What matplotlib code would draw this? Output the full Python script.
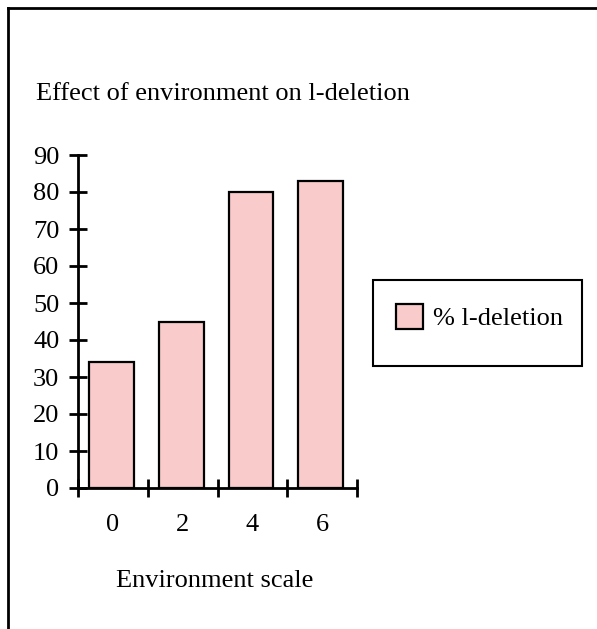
import numpy as np
import matplotlib.pyplot as plt
from matplotlib.lines import Line2D
from matplotlib.patches import Rectangle

categories = ["0", "2", "4", "6"]
deletion = [34, 45, 80, 83]
yticks = [0, 10, 20, 30, 40, 50, 60, 70, 80, 90]

plt.rcParams['font.family'] = ['Liberation Serif', 'DejaVu Serif']
plt.rcParams['font.size'] = 19

fig = plt.figure(figsize=(5.97, 6.29), dpi=100)
ax = fig.add_axes([78/597, 1 - 488/629, (357 - 78)/597, (488 - 155)/629])

x = np.arange(len(categories))
bars = ax.bar(x - 0.02, deletion, width=0.64, color='#f9cbcb', edgecolor='black',
              linewidth=1.6, label='% l-deletion', zorder=3)

ax.set_xlim(-0.5, len(categories) - 0.5)
ax.set_ylim(0, 90)
ax.set_yticks(yticks)
ax.set_xticks(x)
ax.set_xticklabels(categories)
ax.set_xticks(np.arange(len(categories) + 1) - 0.5, minor=True)

for s in ['top', 'right']:
    ax.spines[s].set_visible(False)
for s in ['left', 'bottom']:
    ax.spines[s].set_linewidth(2)
    ax.spines[s].set_zorder(4)

ax.tick_params(axis='y', direction='inout', length=13, width=2, pad=7)
ax.tick_params(axis='x', which='major', length=0, pad=19)
ax.tick_params(axis='x', which='minor', direction='inout', length=13, width=2)

fig.text(36/597, 1 - 100/629, "Effect of environment on l-deletion", ha='left', va='baseline')
fig.text(215/597, 1 - 587/629, "Environment scale", ha='center', va='baseline')

# legend entry without frame, box drawn separately
leg = ax.legend(loc='center left', bbox_to_anchor=(396/597, 1 - 317/629), bbox_transform=fig.transFigure,
                frameon=False, borderpad=0, borderaxespad=0,
                handlelength=1.02, handleheight=1.1, handletextpad=0.4)
fig.add_artist(Rectangle((373/597, 1 - 366/629), (582 - 373)/597, (366 - 280)/629,
                         transform=fig.transFigure, facecolor='none', edgecolor='black', linewidth=1.5))

# page border on the left and top
fig.add_artist(Line2D([8/597, 8/597], [0, 1 - 8/629], color='black', linewidth=2, transform=fig.transFigure))
fig.add_artist(Line2D([8/597, 1], [1 - 8/629, 1 - 8/629], color='black', linewidth=2, transform=fig.transFigure))

fig.savefig('out.png', dpi=100)
